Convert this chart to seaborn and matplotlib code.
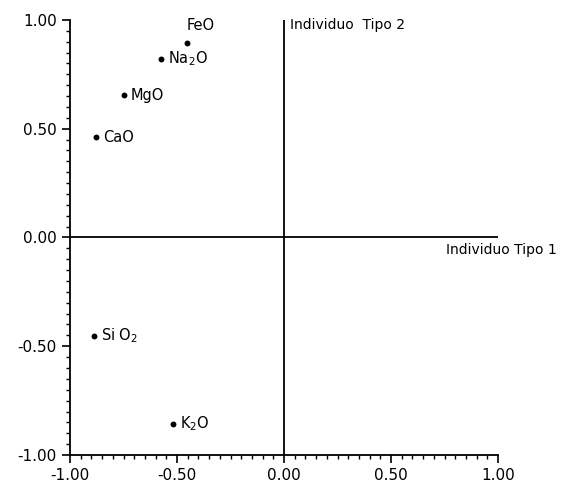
import matplotlib
matplotlib.use("Agg")
import matplotlib.pyplot as plt
import seaborn as sns
import pandas as pd
import numpy as np
from matplotlib.ticker import MultipleLocator, FixedLocator

labels = ["FeO", "Na$_2$O", "MgO", "CaO", "Si O$_2$", "K$_2$O"]
x_vals = [-0.453, -0.575, -0.748, -0.879, -0.888, -0.519]
y_vals = [0.894, 0.820, 0.654, 0.461, -0.452, -0.857]
tick_vals = [-1.00, -0.50, 0.00, 0.50, 1.00]
tick_labels = ["-1.00", "-0.50", "0.00", "0.50", "1.00"]

df = pd.DataFrame({"x": x_vals, "y": y_vals, "label": labels})

sns.set_style("ticks")
plt.rcParams["font.family"] = ["DejaVu Sans"]
plt.rcParams["text.color"] = "black"
plt.rcParams["xtick.color"] = "black"
plt.rcParams["ytick.color"] = "black"
plt.rcParams["axes.edgecolor"] = "black"

fig = plt.figure(figsize=(5.62, 4.83), dpi=100)
ax = fig.add_axes([70/562, 1 - 455/483, (498-70)/562, (455-20)/483])

sns.scatterplot(data=df, x="x", y="y", ax=ax, color="black", s=18,
                edgecolor="black", linewidth=0, legend=False)

for (xv, yv, lab) in zip(x_vals, y_vals, labels):
    if lab == "FeO":
        ax.annotate(lab, (xv, yv), xytext=(0, 7), textcoords="offset points",
                    fontsize=10.5, ha="left", va="bottom", color="black")
    else:
        ax.annotate(lab, (xv, yv), xytext=(5, 0), textcoords="offset points",
                    fontsize=10.5, ha="left", va="center", color="black")

ax.plot([-1, 1], [0, 0], color="black", lw=1.3)
ax.plot([0, 0], [-1, 1], color="black", lw=1.3)

ax.text(0.03, 0.975, "Individuo  Tipo 2", fontsize=10, ha="left", va="center",
        color="black")
ax.text(1.275, -0.057, "Individuo Tipo 1", fontsize=10, ha="right", va="center",
        clip_on=False, color="black")

ax.set_xlim(-1, 1)
ax.set_ylim(-1, 1)
ax.xaxis.set_major_locator(FixedLocator(tick_vals))
ax.yaxis.set_major_locator(FixedLocator(tick_vals))
ax.set_xticklabels(tick_labels)
ax.set_yticklabels(tick_labels)
ax.xaxis.set_minor_locator(MultipleLocator(0.05))
ax.yaxis.set_minor_locator(MultipleLocator(0.05))
ax.tick_params(which="major", length=6, width=1.2, labelsize=11, direction="out",
               colors="black")
ax.tick_params(which="minor", length=3, width=1.0, direction="out", colors="black")
ax.set_xlabel("")
ax.set_ylabel("")
sns.despine(ax=ax)
for sp in ["left", "bottom"]:
    ax.spines[sp].set_linewidth(1.3)
    ax.spines[sp].set_color("black")

fig.savefig("out.png", dpi=100)
